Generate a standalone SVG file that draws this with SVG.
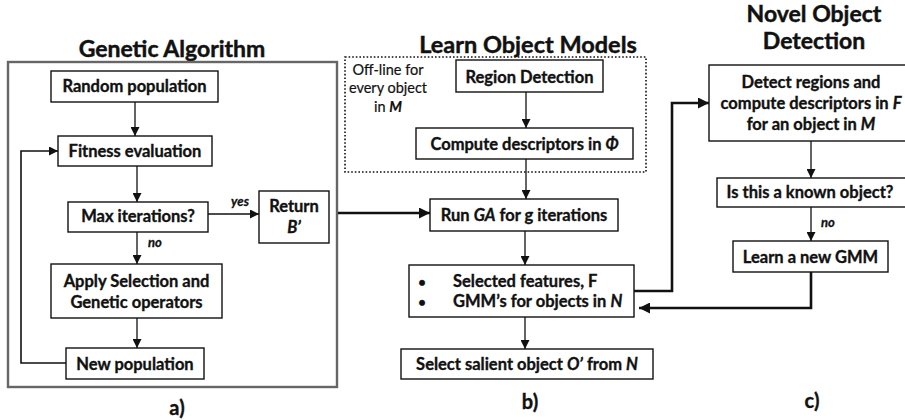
<svg xmlns="http://www.w3.org/2000/svg" width="905" height="420" viewBox="0 0 905 420">
  <style>
    .box { fill: #fff; stroke: #111; stroke-width: 1.4; }
    .t { font-family: Lato, "Open Sans", "Liberation Sans", sans-serif; font-weight: bold; font-size: 16.5px; fill: #111; stroke: #111; stroke-width: 0.35; text-anchor: middle; }
    .title { font-family: Lato, "Open Sans", "Liberation Sans", sans-serif; font-weight: bold; font-size: 23px; fill: #111; stroke: #111; stroke-width: 0.45; text-anchor: middle; }
    .lab { font-family: Lato, "Open Sans", "Liberation Sans", sans-serif; font-weight: bold; font-size: 20px; fill: #111; stroke: #111; stroke-width: 0.35; text-anchor: middle; }
    .note { font-family: Lato, "Open Sans", "Liberation Sans", sans-serif; font-size: 14.5px; fill: #111; stroke: #111; stroke-width: 0.2; text-anchor: middle; }
    .cond { font-family: Lato, "Open Sans", "Liberation Sans", sans-serif; font-weight: bold; font-style: italic; font-size: 13px; fill: #111; stroke: #111; stroke-width: 0.3; text-anchor: middle; }
    .it { font-style: italic; }
    .thin { fill: none; stroke: #111; stroke-width: 1.3; }
    .thick { fill: none; stroke: #111; stroke-width: 2.6; }
  </style>
  <defs>
    <marker id="ah" viewBox="0 0 10 10" refX="10" refY="5" markerWidth="9" markerHeight="9" markerUnits="userSpaceOnUse" orient="auto">
      <path d="M0,0 L10,5 L0,10 z" fill="#111"/>
    </marker>
    <marker id="ahBig" viewBox="0 0 10 10" refX="10" refY="5" markerWidth="12" markerHeight="11" markerUnits="userSpaceOnUse" orient="auto">
      <path d="M0,0 L10,5 L0,10 z" fill="#111"/>
    </marker>
  </defs>
  <rect width="905" height="420" fill="#fff"/>

  <!-- section titles -->
  <text class="title" x="172" y="57">Genetic Algorithm</text>
  <text class="title" x="528" y="53" style="font-size:23.5px">Learn Object Models</text>
  <text class="title" x="814" y="22">Novel Object</text>
  <text class="title" x="814" y="49">Detection</text>

  <!-- frames -->
  <rect x="8" y="62" width="329" height="325" fill="none" stroke="#666" stroke-width="2.4"/>
  <rect x="345" y="57" width="301" height="115" fill="none" stroke="#111" stroke-width="1.6" stroke-dasharray="1.6,2"/>
  <text class="note" x="388" y="75">Off-line for</text>
  <text class="note" x="388" y="93">every object</text>
  <text class="note" x="388" y="112">in <tspan font-weight="bold" font-style="italic">M</tspan></text>

  <!-- a) Genetic algorithm -->
  <g id="random-population">
    <rect class="box" x="51" y="71" width="167" height="31"/>
    <text class="t" x="134.5" y="92">Random population</text>
  </g>
  <g id="fitness-evaluation">
    <rect class="box" x="58" y="136" width="154" height="30"/>
    <text class="t" x="135" y="157">Fitness evaluation</text>
  </g>
  <g id="max-iterations">
    <rect class="box" x="68" y="202" width="140" height="30"/>
    <text class="t" x="138" y="222">Max iterations?</text>
  </g>
  <g id="return-b">
    <rect class="box" x="259" y="191" width="70" height="52"/>
    <text class="t" x="294" y="212">Return</text>
    <text class="t it" x="294" y="233">B’</text>
  </g>
  <g id="apply-selection">
    <rect class="box" x="51" y="264" width="171" height="54"/>
    <text class="t" x="136.5" y="287">Apply Selection and</text>
    <text class="t" x="136.5" y="308">Genetic operators</text>
  </g>
  <g id="new-population">
    <rect class="box" x="66" y="348" width="138" height="31"/>
    <text class="t" x="135" y="370">New population</text>
  </g>

  <!-- b) Learn object models -->
  <g id="region-detection">
    <rect class="box" x="456" y="60" width="147" height="32"/>
    <text class="t" x="529.5" y="83">Region Detection</text>
  </g>
  <g id="compute-descriptors">
    <rect class="box" x="416" y="128" width="217" height="31"/>
    <text class="t" x="524.5" y="150">Compute descriptors in <tspan class="it">Φ</tspan></text>
  </g>
  <g id="run-ga">
    <rect class="box" x="430" y="199" width="188" height="32"/>
    <text class="t" x="524" y="221">Run <tspan class="it">GA</tspan> for g iterations</text>
  </g>
  <g id="selected-features">
    <rect class="box" x="409" y="265" width="225" height="52"/>
    <text class="t" x="422" y="287" style="font-size:13px">•</text>
    <text class="t" x="422" y="307" style="font-size:13px">•</text>
    <text class="t" x="453" y="287" style="text-anchor:start">Selected features, F</text>
    <text class="t" x="453" y="307" style="text-anchor:start">GMM’s for objects in <tspan class="it">N</tspan></text>
  </g>
  <g id="select-salient">
    <rect class="box" x="401" y="349" width="252" height="30"/>
    <text class="t" x="527" y="370">Select salient object <tspan class="it">O’</tspan> from <tspan class="it">N</tspan></text>
  </g>

  <!-- c) Novel object detection -->
  <g id="detect-regions">
    <rect class="box" x="709" y="65" width="210" height="76"/>
    <text class="t" x="811" y="88">Detect regions and</text>
    <text class="t" x="811" y="109">compute descriptors in <tspan class="it">F</tspan></text>
    <text class="t" x="811" y="130">for an object in <tspan class="it">M</tspan></text>
  </g>
  <g id="known-object">
    <rect class="box" x="717" y="178" width="202" height="29"/>
    <text class="t" x="810" y="198">Is this a known object?</text>
  </g>
  <g id="learn-gmm">
    <rect class="box" x="733" y="241" width="155" height="31"/>
    <text class="t" x="810.5" y="263">Learn a new GMM</text>
  </g>

  <!-- connectors -->
  <g id="connectors">
    <line class="thin" x1="135" y1="102" x2="135" y2="136" marker-end="url(#ah)"/>
    <line class="thin" x1="137" y1="166" x2="137" y2="202" marker-end="url(#ah)"/>
    <line class="thin" x1="137" y1="232" x2="137" y2="264" marker-end="url(#ah)"/>
    <line class="thin" x1="137" y1="318" x2="137" y2="348" marker-end="url(#ah)"/>
    <line class="thin" x1="208" y1="214" x2="259" y2="214" marker-end="url(#ah)"/>
    <polyline class="thin" points="66,363 21,363 21,151 58,151" marker-end="url(#ah)" style="stroke-width:1.6"/>
    <text class="cond" x="240" y="206">yes</text>
    <text class="cond" x="155" y="247">no</text>

    <line class="thick" x1="338" y1="213" x2="430" y2="213" marker-end="url(#ahBig)"/>
    <line class="thin" x1="526" y1="92" x2="526" y2="128" marker-end="url(#ah)"/>
    <line class="thin" x1="526" y1="159" x2="526" y2="199" marker-end="url(#ah)"/>
    <line class="thin" x1="525" y1="231" x2="525" y2="265" marker-end="url(#ah)"/>
    <line class="thin" x1="525" y1="317" x2="525" y2="349" marker-end="url(#ah)"/>

    <polyline class="thick" points="634,291 672,291 672,103 709,103" marker-end="url(#ahBig)"/>
    <line class="thin" x1="811" y1="141" x2="811" y2="178" marker-end="url(#ah)"/>
    <line class="thin" x1="811" y1="207" x2="811" y2="241" marker-end="url(#ah)"/>
    <text class="cond" x="828" y="227">no</text>
    <polyline class="thick" points="811,272 811,308 639,308" marker-end="url(#ahBig)"/>
  </g>

  <!-- panel labels -->
  <text class="lab" x="177" y="415">a)</text>
  <text class="lab" x="530" y="409">b)</text>
  <text class="lab" x="812" y="408">c)</text>
</svg>
